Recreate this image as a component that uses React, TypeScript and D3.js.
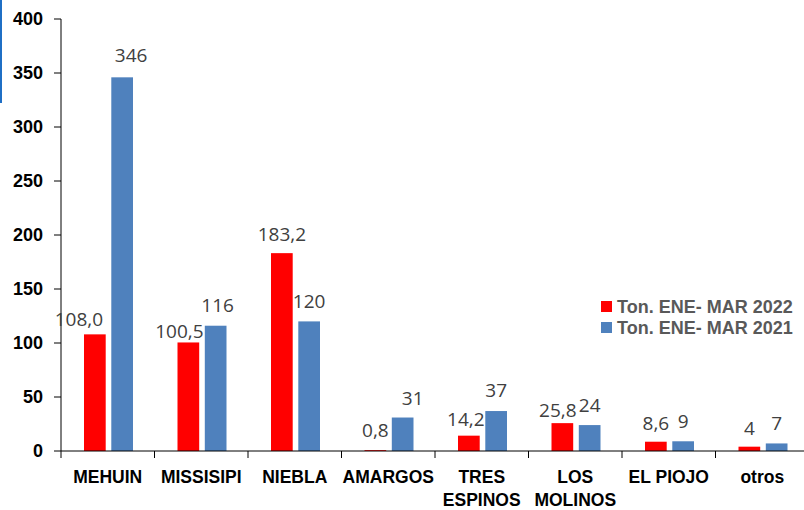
import React from "react";
import * as d3 from "d3";

const categories: string[][] = [
  ["MEHUIN"],
  ["MISSISIPI"],
  ["NIEBLA"],
  ["AMARGOS"],
  ["TRES", "ESPINOS"],
  ["LOS", "MOLINOS"],
  ["EL PIOJO"],
  ["otros"],
];
const series2022: number[] = [108.0, 100.5, 183.2, 0.8, 14.2, 25.8, 8.6, 4];
const labels2022: string[] = ["108,0", "100,5", "183,2", "0,8", "14,2", "25,8", "8,6", "4"];
const series2021: number[] = [346, 116, 120, 31, 37, 24, 9, 7];
const labels2021: string[] = ["346", "116", "120", "31", "37", "24", "9", "7"];
const seriesNames: string[] = ["Ton. ENE- MAR 2022", "Ton. ENE- MAR 2021"];
const yTicks: number[] = [0, 50, 100, 150, 200, 250, 300, 350, 400];

// layout / style constants
const W = 804;
const H = 510;
const colors = ["#FF0000", "#4F81BD"];
const labelNudge: Record<string, [number, number]> = {
  "0-0": [-16, 5],
  "1-0": [9, -2],
  "0-1": [-9, 8.5],
  "1-1": [2, -1],
  "0-2": [0, 1],
  "1-3": [10, 0],
  "0-4": [-3, 3],
  "1-4": [0, -1],
  "0-5": [-4.5, 7],
  "0-6": [0, 1],
  "0-7": [0, 1],
};

export default function App() {
  const keys = categories.map((c) => c.join(" "));
  const x = d3.scaleBand<string>().domain(keys).range([61, 61 + 8 * 93.5]).padding(0);
  const xs = d3.scaleBand<number>().domain([0, 1]).range([23, 72]).paddingInner(0.205).paddingOuter(0);
  const y = d3.scaleLinear().domain([0, 400]).range([451, 19]);

  const allSeries = [series2022, series2021];
  const allLabels = [labels2022, labels2021];
  const bw = xs.bandwidth();

  return (
    <svg
      width={W}
      height={H}
      style={{ position: "absolute", left: 0, top: 0, background: "#fff" }}
    >
      <rect x={0} y={0} width={W} height={H} fill="#fff" />
      <rect x={0} y={0} width={2} height={103} fill="#1F6FC5" />

      {/* bars */}
      {allSeries.map((vals, s) =>
        vals.map((v, i) => {
          const bx = (x(keys[i]) as number) + (xs(s) as number);
          return (
            <rect
              key={`b${s}-${i}`}
              x={bx}
              y={y(v)}
              width={bw}
              height={y(0) - y(v)}
              fill={colors[s]}
            />
          );
        })
      )}

      {/* y axis */}
      <line x1={61} x2={61} y1={y(400)} y2={y(0)} stroke="#000" strokeWidth={1} />
      {yTicks.map((t) => (
        <g key={`yt${t}`}>
          <line x1={54} x2={61} y1={y(t)} y2={y(t)} stroke="#000" strokeWidth={1} />
          <text
            x={43}
            y={y(t)}
            dy="0.36em"
            textAnchor="end"
            fontFamily="Liberation Sans, Arial, sans-serif"
            fontWeight="bold"
            fontSize={18}
            fill="#000"
          >
            {t}
          </text>
        </g>
      ))}

      {/* x axis */}
      <line x1={61} x2={W} y1={y(0)} y2={y(0)} stroke="#000" strokeWidth={1} />
      {keys.map((k) => (
        <line
          key={`xt${k}`}
          x1={x(k) as number}
          x2={x(k) as number}
          y1={y(0)}
          y2={y(0) + 7}
          stroke="#000"
          strokeWidth={1}
        />
      ))}
      {categories.map((lines, i) => (
        <text
          key={`xl${i}`}
          x={(x(keys[i]) as number) + x.bandwidth() / 2}
          y={483}
          textAnchor="middle"
          fontFamily="Liberation Sans, Arial, sans-serif"
          fontWeight="bold"
          fontSize={17.5}
          fill="#000"
        >
          {lines.map((ln, j) => (
            <tspan key={j} x={(x(keys[i]) as number) + x.bandwidth() / 2} dy={j === 0 ? 0 : 22.5}>
              {ln}
            </tspan>
          ))}
        </text>
      ))}

      {/* value labels */}
      {allSeries.map((vals, s) =>
        vals.map((v, i) => {
          const cx = (x(keys[i]) as number) + (xs(s) as number) + bw / 2;
          const n = labelNudge[`${s}-${i}`] || [0, 0];
          return (
            <text
              key={`vl${s}-${i}`}
              x={cx + n[0]}
              y={y(v) - 13 + n[1]}
              textAnchor="middle"
              fontFamily="Open Sans, sans-serif"
              fontSize={19}
              fill="#404040"
            >
              {allLabels[s][i]}
            </text>
          );
        })
      )}

      {/* legend */}
      {seriesNames.map((name, s) => (
        <g key={`lg${s}`} transform={`translate(601, ${301 + s * 21})`}>
          <rect x={0} y={0} width={11} height={11} fill={colors[s]} />
          <text
            x={16}
            y={5.5}
            dy="0.36em"
            fontFamily="Liberation Sans, Arial, sans-serif"
            fontWeight="bold"
            fontSize={18}
            fill="#595959"
          >
            {name}
          </text>
        </g>
      ))}
    </svg>
  );
}
